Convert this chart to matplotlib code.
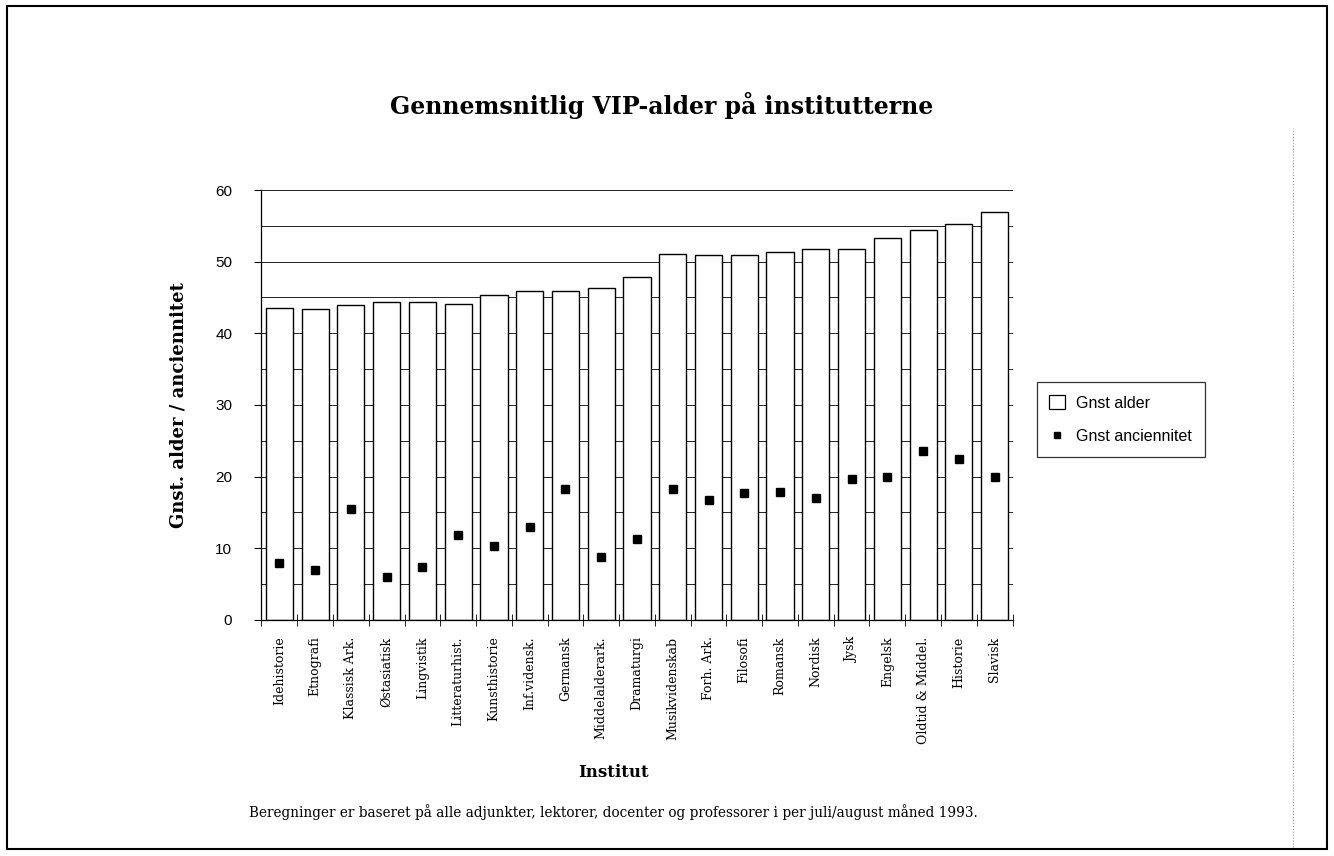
"""
 Gennemsnitlig VIP-alder paa institutterne
"""
import numpy as np
from matplotlib import pyplot as plt
from matplotlib.patches import Rectangle
from matplotlib.lines import Line2D

institutter = ['Idehistorie', 'Etnografi', 'Klassisk Ark.', 'Østasiatisk', 'Lingvistik',
               'Litteraturhist.', 'Kunsthistorie', 'Inf.vidensk.', 'Germansk', 'Middelalderark.',
               'Dramaturgi', 'Musikvidenskab', 'Forh. Ark.', 'Filosofi', 'Romansk', 'Nordisk',
               'Jysk', 'Engelsk', 'Oldtid & Middel.', 'Historie', 'Slavisk']
gnst_alder = [43.5, 43.4, 44.0, 44.4, 44.4, 44.1, 45.3, 45.9, 45.9, 46.3, 47.9,
              51.0, 50.9, 50.9, 51.4, 51.8, 51.8, 53.3, 54.4, 55.3, 56.9]
gnst_anciennitet = [7.9, 7.0, 15.4, 5.9, 7.4, 11.8, 10.3, 12.9, 18.3, 8.8, 11.3,
                    18.2, 16.7, 17.7, 17.9, 17.0, 19.6, 20.0, 23.6, 22.5, 19.9]

serif = 'DejaVu Serif'
sans = 'Liberation Sans'

fig = plt.figure(figsize=(13.34, 8.56), dpi=100)
ax = fig.add_axes([0.196, 0.276, 0.563, 0.502])

x = np.arange(len(institutter))

# gitterlinjer hver 5. bag soejlerne
for val in range(5, 61, 5):
    ax.axhline(val, color='#222222', linewidth=0.7, zorder=1)

ax.bar(x, gnst_alder, width=0.76, color='white', edgecolor='black', linewidth=1.0, zorder=2)
ax.plot(x, gnst_anciennitet, linestyle='none', marker='s', markersize=5.5,
        color='black', zorder=3)

ax.set_xlim(-0.5, len(institutter) - 0.5)
ax.set_ylim(0, 60)
ax.set_yticks(range(0, 61, 10))
ax.set_yticklabels([str(v) for v in range(0, 61, 10)], fontsize=11, family=sans)
ax.tick_params(axis='y', direction='out', length=5, pad=16)

ax.set_xticks(x)
ax.set_xticklabels(institutter, rotation=90, fontsize=9, family=serif, va='top', ha='center')
ax.set_xticks(np.arange(-0.5, len(institutter), 1), minor=True)
ax.tick_params(axis='x', which='major', length=0, pad=12)
ax.tick_params(axis='x', which='minor', direction='inout', length=8)

for side in ['top', 'right']:
    ax.spines[side].set_visible(False)
ax.spines['left'].set_linewidth(0.9)
ax.spines['bottom'].set_linewidth(0.9)

ax.set_ylabel('Gnst. alder / anciennitet', fontsize=13, family=serif, fontweight='bold', labelpad=20)

fig.text(0.496, 0.877, 'Gennemsnitlig VIP-alder på institutterne', ha='center', va='center',
         fontsize=17, family=serif, fontweight='bold')
fig.text(0.46, 0.097, 'Institut', ha='center', va='center', fontsize=12, family=serif,
         fontweight='bold')
fig.text(0.46, 0.051, 'Beregninger er baseret på alle adjunkter, lektorer, docenter og professorer '
         'i per juli/august måned 1993.', ha='center', va='center', fontsize=9.8, family=serif)

handles = [Rectangle((0, 0), 1, 1, facecolor='white', edgecolor='black', linewidth=0.9),
           Line2D([], [], linestyle='none', marker='s', markersize=5, color='black')]
leg = fig.legend(handles, ['Gnst alder', 'Gnst anciennitet'], loc='center left',
                 bbox_to_anchor=(0.777, 0.51), frameon=True, fancybox=False,
                 prop={'family': sans, 'size': 11.5}, borderpad=0.8, labelspacing=1.1,
                 handlelength=1.0, handleheight=1.0, handletextpad=0.7, borderaxespad=0)
leg.get_frame().set_edgecolor('black')
leg.get_frame().set_linewidth(0.9)

# ramme om hele figuren
fig.patches.append(Rectangle((0.005, 0.008), 0.99, 0.985, transform=fig.transFigure,
                             fill=False, edgecolor='black', linewidth=1.5))
fig.lines.append(Line2D([0.969, 0.969], [0.01, 0.85], transform=fig.transFigure,
                        color='#999999', linestyle=':', linewidth=0.8))

plt.savefig('out.png', dpi=100)
